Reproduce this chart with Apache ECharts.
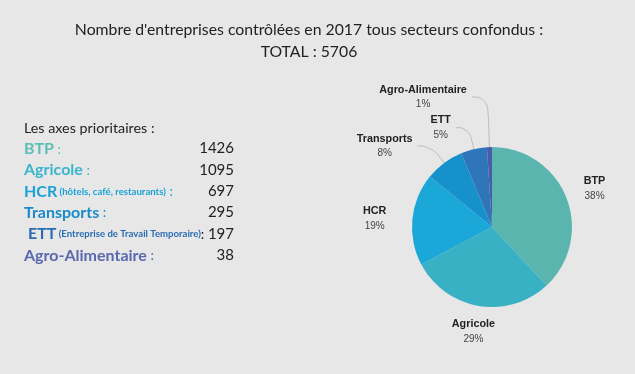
<!DOCTYPE html>
<html><head><meta charset="utf-8">
<script src="https://cdn.jsdelivr.net/npm/echarts@6/dist/echarts.min.js"></script>
<style>html,body{margin:0;padding:0;background:#e7e7e7}#c{width:635px;height:374px}</style>
</head><body><div id="c"></div>
<script>
const titleLines = ["Nombre d'entreprises contrôlées en 2017 tous secteurs confondus :", "TOTAL : 5706"];
const listHeading = "Les axes prioritaires :";
const categories = ["BTP", "Agricole", "HCR", "Transports", "ETT", "Agro-Alimentaire"];
const notes = ["", "", "(hôtels, café, restaurants)", "", "(Entreprise de Travail Temporaire)", ""];
const values = [1426, 1095, 697, 295, 197, 38];
const sliceColors = ["#5ab5af", "#38b1c5", "#1ba7d7", "#1691cc", "#2e75b9", "#4a5ba7"];
const textColors = ["#5bbfb8", "#38b6cc", "#1aa2d8", "#1a8bca", "#2a6cb2", "#5a68b0"];
// label line settings per slice: [show, length, length2]
const labelLines = [[false, 10, 8], [false, 26, 0], [false, 5, 16], [true, 21, 14], [true, 22, 13], [true, 50, 16]];

const chart = echarts.init(document.getElementById('c'));
const FONT = 'Lato';
const graphics = [];
titleLines.forEach((t, i) => {
  graphics.push({type: 'text', x: 309, y: 22 + i * 22, style: {text: t, font: '15.8px ' + FONT, fill: '#222', align: 'center', verticalAlign: 'top'}});
});
graphics.push({type: 'text', left: 24, top: 121, style: {text: listHeading, font: '14.3px ' + FONT, fill: '#222'}});
categories.forEach((c, i) => {
  const y = 150 + i * 21.3;
  const indent = i === 4 ? 4 : 0;
  let txt = '{c|' + c + '}';
  if (notes[i]) txt += '{s| ' + notes[i] + '}';
  txt += '{k|' + (i === 4 ? ':' : ' :') + '}';
  graphics.push({type: 'text', left: 24 + indent, top: y - 9, style: {
    text: txt,
    rich: {
      c: {fontSize: 16, fontWeight: 'bold', fontFamily: FONT, fill: textColors[i]},
      s: {fontSize: 9.6, fontWeight: 'bold', fontFamily: FONT, fill: textColors[i]},
      k: {fontSize: 14, fontFamily: FONT, fill: i === 4 ? '#222' : textColors[i]}
    }
  }});
  graphics.push({type: 'text', right: 635 - 234, top: y - 9, style: {text: String(values[i]), font: '15px ' + FONT, fill: '#222', align: 'right'}});
});

chart.setOption({
  backgroundColor: '#e7e7e7',
  animation: false,
  graphic: graphics,
  series: [{
    type: 'pie',
    center: [492, 227],
    radius: [0, 80],
    startAngle: 90,
    clockwise: true,
    percentPrecision: 0,
    avoidLabelOverlap: false,
    label: {
      show: true,
      formatter: '{n|{b}}\n{p|{d}%}',
      rich: {
        n: {fontFamily: 'Liberation Sans', fontSize: 10.8, fontWeight: 'bold', color: '#222', align: 'center', lineHeight: 15},
        p: {fontFamily: 'Liberation Sans', fontSize: 10, color: '#444', align: 'center', lineHeight: 15}
      }
    },
    labelLine: {smooth: 0.5, lineStyle: {color: '#bdbdbd', width: 1}},
    labelLayout: function (p) {
      if (p.dataIndex === 1) return {align: 'center', dx: 4};
      if (p.dataIndex === 0) return {dy: -5, dx: -5};
      return {};
    },
    emphasis: {disabled: true},
    data: categories.map((c, i) => ({
      name: c, value: values[i],
      itemStyle: {color: sliceColors[i]},
      labelLine: {show: labelLines[i][0], length: labelLines[i][1], length2: labelLines[i][2]}
    }))
  }]
});
</script></body></html>
